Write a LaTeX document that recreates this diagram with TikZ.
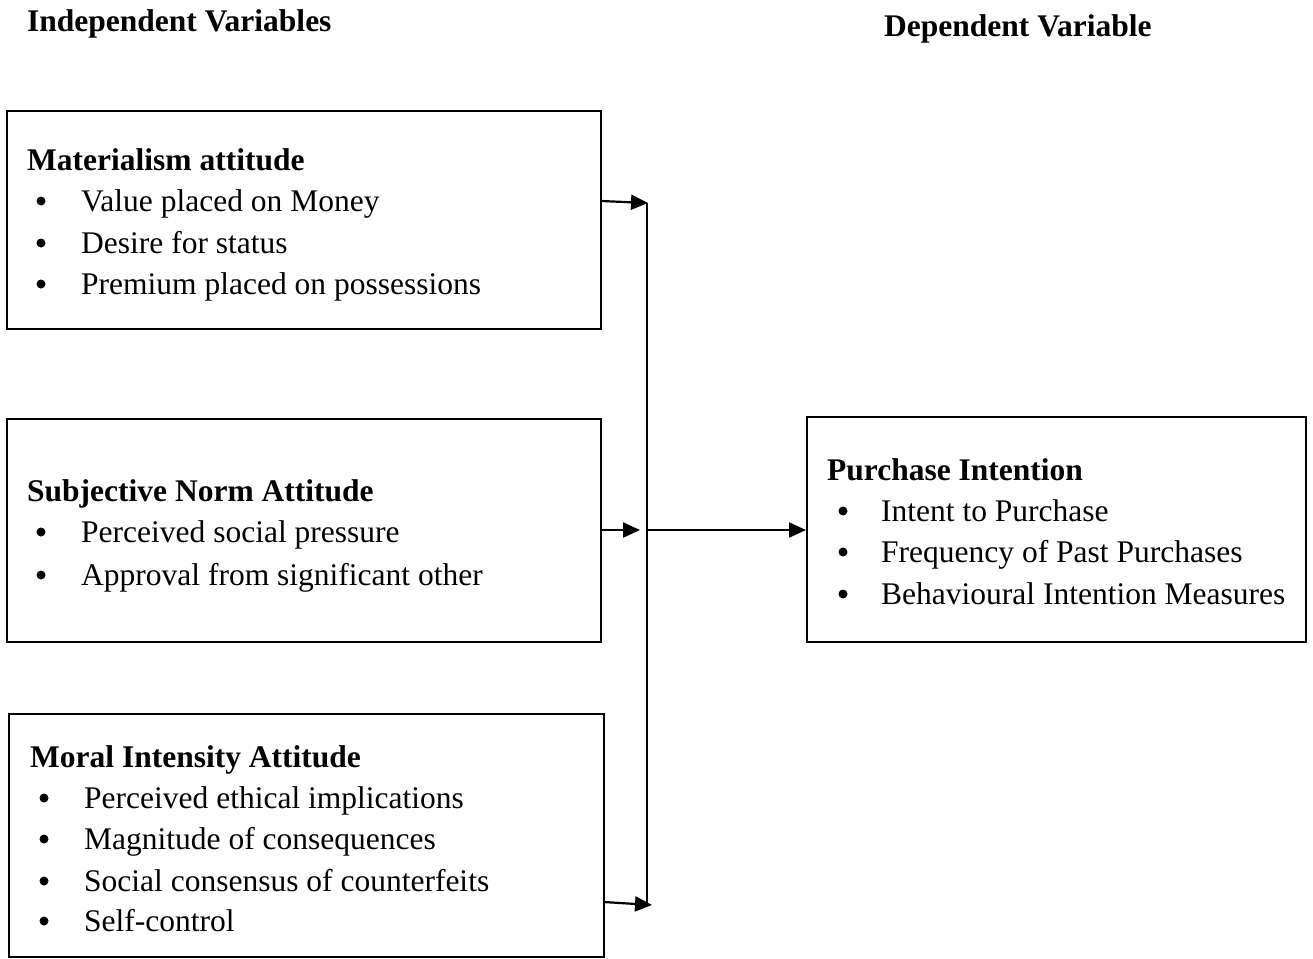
\documentclass[tikz,border=0pt]{standalone}
\usepackage{fontspec}
\setmainfont{Liberation Serif}
\usetikzlibrary{arrows.meta}
\tikzset{
  box/.style={draw, line width=2pt, inner sep=0pt},
  ttl/.style={anchor=base west, inner sep=0pt, font=\fontsize{31.5}{36}\selectfont\bfseries},
  head/.style={anchor=base west, inner sep=0pt, font=\fontsize{31.5}{36}\selectfont\bfseries},
  itm/.style={anchor=base west, inner sep=0pt, font=\fontsize{31.5}{36}\selectfont},
  bul/.style={circle, fill, inner sep=0pt, minimum size=9pt},
  conn/.style={line width=2.2pt},
  arr/.style={line width=2.2pt, -{Triangle[length=17pt,width=15pt]}},
}
\begin{document}
\begin{tikzpicture}[x=1pt,y=-1pt]
\useasboundingbox (0,0) rectangle (1313,958);
% headings
\node[head] (hind) at (27,32) {Independent Variables};
\node[head] (hdep) at (884,37) {Dependent Variable};
% boxes
\node[box, minimum width=594pt, minimum height=218pt] (b1) at (304,220) {};
\node[box, minimum width=594pt, minimum height=223pt] (b2) at (304,530.5) {};
\node[box, minimum width=595pt, minimum height=243pt] (b3) at (306.5,835.5) {};
\node[box, minimum width=499pt, minimum height=225pt] (b4) at (1056.5,529.5) {};
% box 1 text
\node[ttl] (t1) at (27,170) {Materialism attitude};
\node[bul] (t1b1) at (41,201) {}; \node[itm] (t1i1) at (81,211) {Value placed on Money};
\node[bul] (t1b2) at (41,243) {}; \node[itm] (t1i2) at (81,253) {Desire for status};
\node[bul] (t1b3) at (41,284) {}; \node[itm] (t1i3) at (81,294) {Premium placed on possessions};
% box 2 text
\node[ttl] (t2) at (27,501) {Subjective Norm Attitude};
\node[bul] (t2b1) at (41,532) {}; \node[itm] (t2i1) at (81,542) {Perceived social pressure};
\node[bul] (t2b2) at (41,575) {}; \node[itm] (t2i2) at (81,585) {Approval from significant other};
% box 3 text
\node[ttl] (t3) at (30,767) {Moral Intensity Attitude};
\node[bul] (t3b1) at (44,798) {}; \node[itm] (t3i1) at (84,808) {Perceived ethical implications};
\node[bul] (t3b2) at (44,839) {}; \node[itm] (t3i2) at (84,849) {Magnitude of consequences};
\node[bul] (t3b3) at (44,881) {}; \node[itm] (t3i3) at (84,891) {Social consensus of counterfeits};
\node[bul] (t3b4) at (44,921) {}; \node[itm] (t3i4) at (84,931) {Self-control};
% box 4 text
\node[ttl] (t4) at (827,480) {Purchase Intention};
\node[bul] (t4b1) at (843,511) {}; \node[itm] (t4i1) at (881,521) {Intent to Purchase};
\node[bul] (t4b2) at (843,552) {}; \node[itm] (t4i2) at (881,562) {Frequency of Past Purchases};
\node[bul] (t4b3) at (843,594) {}; \node[itm] (t4i3) at (881,604) {Behavioural Intention Measures};
% connectors
\coordinate (jtop) at (647,203);
\coordinate (jmid) at (647,530);
\coordinate (jbot) at (647,905);
\coordinate (s1) at (601,201);
\coordinate (s3) at (604,902);
\coordinate (e2) at (640,530);
\draw[conn] (jtop) -- (jbot);
\draw[arr] (s1) -- ([xshift=1pt]jtop);
\draw[arr] (b2.east |- jmid) -- (e2);
\draw[arr] (s3) -- ([xshift=5pt]jbot);
\draw[arr] (jmid) -- (b4.west |- jmid);
\end{tikzpicture}
\end{document}
